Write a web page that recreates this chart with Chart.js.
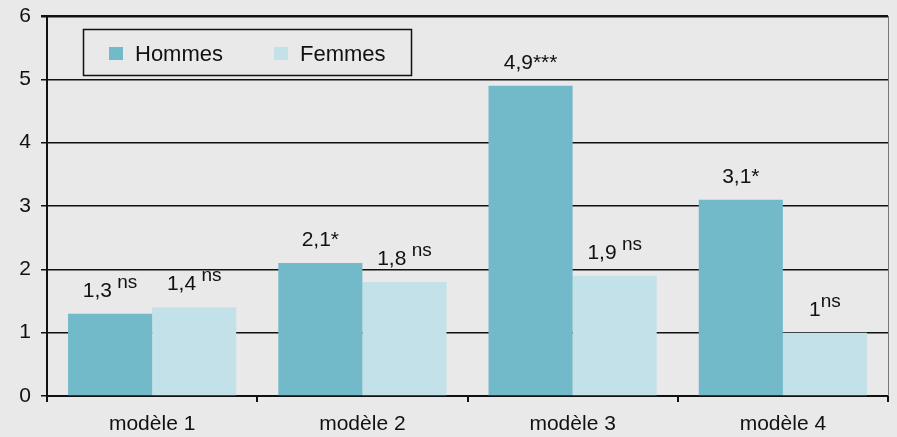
<!DOCTYPE html>
<html>
<head>
<meta charset="utf-8">
<script src="https://cdn.jsdelivr.net/npm/chart.js@4.4.1/dist/chart.umd.min.js"></script>
<style>
  html, body { margin: 0; padding: 0; background: #e9e9e9; }
  canvas { display: block; }
</style>
</head>
<body>
<canvas id="mycanvas" width="897" height="437"></canvas>
<script>
// data
var modeles = ['modèle 1', 'modèle 2', 'modèle 3', 'modèle 4'];
var hommes = [1.3, 2.1, 4.9, 3.1];
var femmes = [1.4, 1.8, 1.9, 1.0];
// significance marks shown after each value
var sigHommes = [' ns', '*', '***', '*'];
var sigFemmes = [' ns', ' ns', ' ns', 'ns'];
var yTicks = [0, 1, 2, 3, 4, 5, 6];

var colors = {
  hommes: '#72bac9',
  femmes: '#c3e1e8'
};
var FONT = '"Liberation Sans", Arial, sans-serif';

// value labels over the bars, "ns" set as superscript
var valueLabels = {
  id: 'valueLabels',
  afterDatasetsDraw: function (chart) {
    var ctx = chart.ctx;
    var sigs = [sigHommes, sigFemmes];
    ctx.save();
    ctx.fillStyle = '#111';
    ctx.textBaseline = 'alphabetic';
    ctx.textAlign = 'left';
    chart.data.datasets.forEach(function (ds, d) {
      var meta = chart.getDatasetMeta(d);
      meta.data.forEach(function (bar, i) {
        var main = String(ds.data[i]).replace('.', ',');
        var sig = sigs[d][i];
        var sup = sig.trim() === 'ns';
        var mainTxt = sup ? main : main + sig;
        var supTxt = sup ? sig : '';
        ctx.font = '21px ' + FONT;
        var w1 = ctx.measureText(mainTxt).width;
        ctx.font = '19px ' + FONT;
        var w2 = supTxt ? ctx.measureText(supTxt).width : 0;
        var x = bar.x - (w1 + w2) / 2;
        var y = bar.y - 17;
        ctx.font = '21px ' + FONT;
        ctx.fillText(mainTxt, x, y);
        if (supTxt) {
          ctx.font = '19px ' + FONT;
          ctx.fillText(supTxt, x + w1, y - 9);
        }
      });
    });
    ctx.restore();
  }
};

// boxed legend inside the plot, plus the thin right frame line
var boxLegend = {
  id: 'boxLegend',
  afterDraw: function (chart) {
    var ctx = chart.ctx;
    var a = chart.chartArea;
    ctx.save();
    ctx.strokeStyle = '#777';
    ctx.lineWidth = 1;
    ctx.beginPath();
    ctx.moveTo(a.right + 0.5, a.top);
    ctx.lineTo(a.right + 0.5, a.bottom);
    ctx.stroke();

    var bx = a.left + 36, by = a.top + 13, bw = 328, bh = 46;
    ctx.strokeStyle = '#111';
    ctx.lineWidth = 1.5;
    ctx.strokeRect(bx + 0.5, by + 0.5, bw, bh);
    ctx.font = '22px ' + FONT;
    ctx.textBaseline = 'alphabetic';
    var xs = [bx + 26, bx + 191];
    chart.data.datasets.forEach(function (ds, d) {
      ctx.fillStyle = ds.backgroundColor;
      ctx.fillRect(xs[d], by + 18, 14, 13);
      ctx.fillStyle = '#111';
      ctx.fillText(ds.label, xs[d] + 26, by + 32);
    });
    ctx.restore();
  }
};

var ctx = document.getElementById('mycanvas').getContext('2d');
var myChart = new Chart(ctx, {
  type: 'bar',
  data: {
    labels: modeles,
    datasets: [{
      label: 'Hommes',
      data: hommes,
      backgroundColor: colors.hommes,
      categoryPercentage: 0.8,
      barPercentage: 1.0
    }, {
      label: 'Femmes',
      data: femmes,
      backgroundColor: colors.femmes,
      categoryPercentage: 0.8,
      barPercentage: 1.0
    }]
  },
  options: {
    responsive: false,
    animation: false,
    devicePixelRatio: 1,
    layout: { padding: { top: 16, right: 9, left: 0, bottom: 0 } },
    plugins: {
      legend: { display: false },
      tooltip: { enabled: false }
    },
    scales: {
      x: {
        grid: {
          offset: true,
          drawOnChartArea: false,
          color: '#111',
          lineWidth: 2,
          tickLength: 6
        },
        border: { color: '#111', width: 2 },
        ticks: {
          color: '#111',
          font: { family: FONT, size: 21 },
          padding: 10
        },
        afterFit: function (s) {
          s.height = 41;
          s.paddingLeft = 0;
          s.paddingRight = 0;
        }
      },
      y: {
        min: 0,
        max: 6,
        afterBuildTicks: function (s) {
          s.ticks = yTicks.map(function (v) { return { value: v }; });
        },
        grid: {
          color: '#111',
          lineWidth: function (c) { return c.tick && c.tick.value === 6 ? 2.5 : 1.5; },
          tickLength: 6
        },
        border: { color: '#111', width: 2 },
        ticks: {
          color: '#111',
          font: { family: FONT, size: 21 },
          padding: 10
        },
        afterFit: function (s) {
          s.width = 47;
          s.paddingTop = 0;
          s.paddingBottom = 0;
        }
      }
    }
  },
  plugins: [valueLabels, boxLegend]
});
</script>
</body>
</html>
